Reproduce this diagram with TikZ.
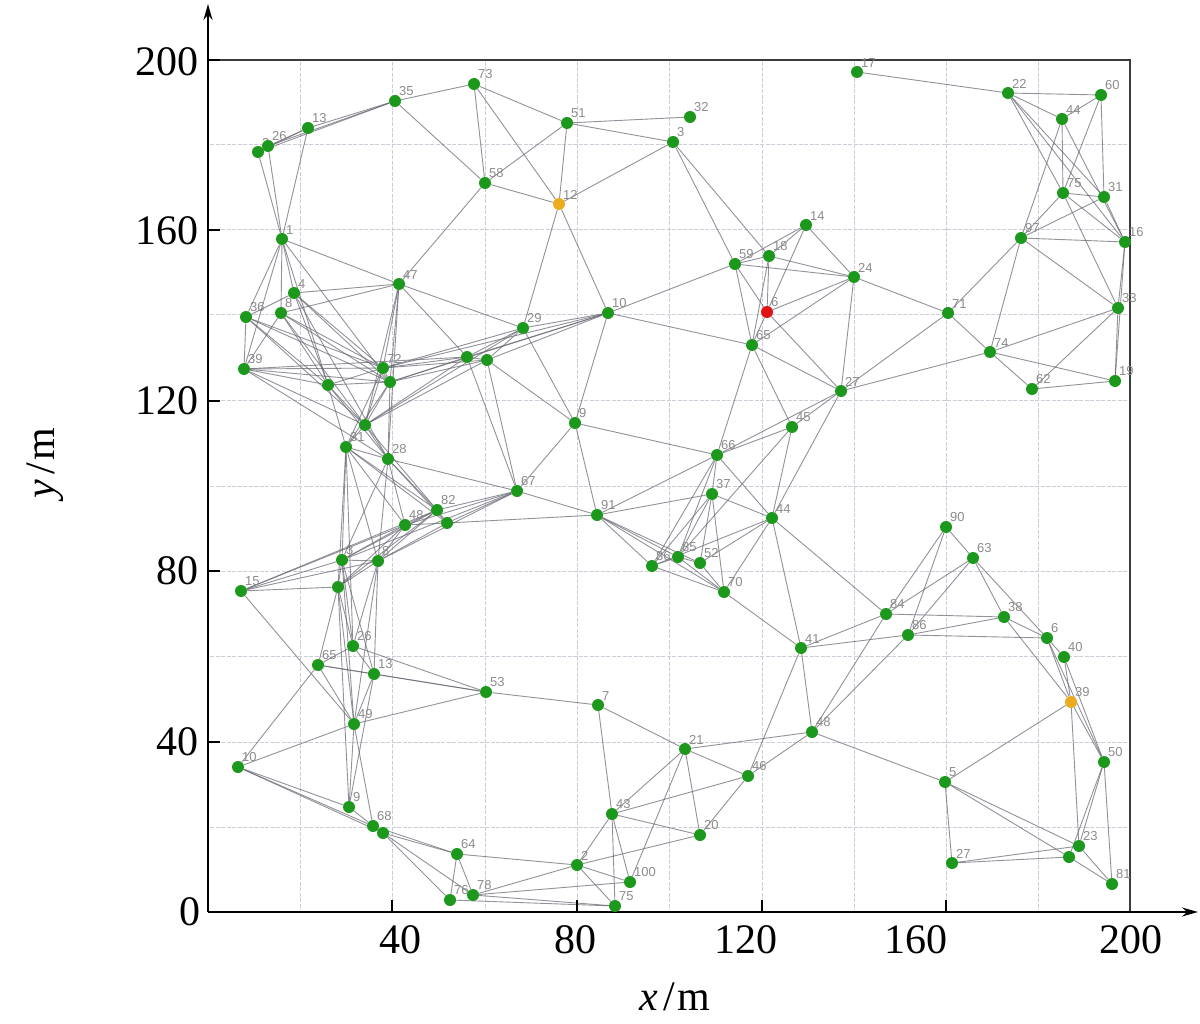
\documentclass[tikz,border=0pt]{standalone}
\usepackage{fontspec}
\setmainfont{Liberation Serif}
\newfontfamily\lblfont{Liberation Sans}
\usetikzlibrary{arrows.meta}
\definecolor{nodegreen}{RGB}{28,152,28}
\definecolor{nodeyellow}{RGB}{235,172,30}
\definecolor{nodered}{RGB}{222,20,20}
\definecolor{edgegray}{RGB}{100,100,112}
\definecolor{gridgray}{RGB}{205,205,215}
\definecolor{lblgray}{RGB}{140,140,140}
\definecolor{framegray}{RGB}{60,60,60}
\pgfdeclarelayer{back}
\pgfdeclarelayer{bg}
\pgfsetlayers{back,bg,main}
\tikzset{
  gn/.style={circle,fill=nodegreen,minimum size=12pt,inner sep=0pt},
  yn/.style={circle,fill=nodeyellow,minimum size=12pt,inner sep=0pt},
  rn/.style={circle,fill=nodered,minimum size=12pt,inner sep=0pt},
  lbl/.style={font=\lblfont\fontsize{13}{13}\selectfont,text=lblgray,inner sep=0pt},
  nlab/.style={label={[lbl,label distance=0pt]50:#1}},
  edge/.style={draw=edgegray,line width=0.9pt,draw opacity=0.7},
  gridline/.style={draw=gridgray,line width=1pt,dash pattern=on 4pt off 1.5pt},
  ticklbl/.style={font=\fontsize{42}{42}\selectfont,inner sep=0pt},
  axisline/.style={line width=1.8pt,black,-{Stealth[length=16pt,width=9pt]}}
}
\begin{document}
\begin{tikzpicture}[x=1pt,y=-1pt]
\useasboundingbox (0,0) rectangle (1200,1024);
\begin{pgfonlayer}{back}
\fill[white] (0,0) rectangle (1200,1024);
\foreach \gx in {300,392,485,577,669,762,854,946,1038}
  \draw[gridline] (\gx,62) -- (\gx,910);
\foreach \gy in {145,230,315,400,486,571,656,742,827}
  \draw[gridline] (210,\gy) -- (1128,\gy);
\end{pgfonlayer}
% frame
\draw[framegray,line width=2.5pt] (208,60) -- (1130,60) -- (1130,912);
% axes
\coordinate (O) at (208,912);
\coordinate (Ytop) at (208,4);
\coordinate (Xend) at (1198,912);
\draw[axisline] (O) -- (Ytop);
\draw[axisline] (O) -- (Xend);
\foreach \ty in {60,230,401,571,742}
  \draw[line width=1.6pt] (208,\ty) -- (220,\ty);
\foreach \tx in {392,577,762,946}
  \draw[line width=1.6pt] (\tx,912) -- (\tx,900);
% tick labels
\node[ticklbl,anchor=east] (ly200) at (199,62) {200};
\node[ticklbl,anchor=east] (ly160) at (199,231) {160};
\node[ticklbl,anchor=east] (ly120) at (199,401) {120};
\node[ticklbl,anchor=east] (ly80) at (199,571) {80};
\node[ticklbl,anchor=east] (ly40) at (199,742) {40};
\node[ticklbl,anchor=east] (ly0) at (201,912) {0};
\node[ticklbl] (lx40) at (400,940) {40};
\node[ticklbl] (lx80) at (575,940) {80};
\node[ticklbl] (lx120) at (746,940) {120};
\node[ticklbl] (lx160) at (916,940) {160};
\node[ticklbl] (lx200) at (1131,940) {200};
\node[ticklbl] (xlab) at (675,997) {\textit{x}\hspace{5pt}/\hspace{3pt}m};
\node[ticklbl,rotate=90] (ylab) at (45,463) {\textit{y}\hspace{5pt}/\hspace{3pt}m};

% nodes
\node[gn,nlab=35] (n35) at (395,101) {};
\node[gn,nlab=13] (n13) at (308,128) {};
\node[gn,nlab=2] (a26) at (258,152) {};
\node[gn,nlab=26] (b26) at (268,146) {};
\node[gn,nlab=73] (n73) at (474,84) {};
\node[gn,nlab=51] (n51) at (567,123) {};
\node[gn,nlab=32] (n32) at (690,117) {};
\node[gn,nlab=3] (n3) at (673,142) {};
\node[gn,nlab=58] (n58) at (485,183) {};
\node[yn,nlab=12] (n12) at (559,204) {};
\node[gn,nlab=17] (n17) at (857,72) {};
\node[gn,nlab=22] (n22) at (1008,93) {};
\node[gn,nlab=60] (n60) at (1101,95) {};
\node[gn,nlab=44] (n44) at (1062,119) {};
\node[gn,nlab=75] (n75t) at (1063,193) {};
\node[gn,nlab=31] (n31) at (1104,197) {};
\node[gn,nlab=97] (n97) at (1021,238) {};
\node[gn,nlab=16] (n16) at (1125,242) {};
\node[gn,nlab=1] (n1) at (282,239) {};
\node[gn,nlab=47] (n47) at (399,284) {};
\node[gn,nlab=4] (n4) at (294,293) {};
\node[gn,nlab=36] (n36) at (246,317) {};
\node[gn,nlab=8] (n8) at (281,313) {};
\node[gn,nlab=10] (n10) at (608,313) {};
\node[gn,nlab=29] (n29) at (523,328) {};
\node[gn,nlab=14] (n14) at (806,225) {};
\node[gn,nlab=18] (n18) at (769,256) {};
\node[gn,nlab=59] (n59) at (735,264) {};
\node[gn,nlab=24] (n24) at (854,277) {};
\node[rn,nlab=6] (nr) at (767,312) {};
\node[gn,nlab=65] (n65) at (752,345) {};
\node[gn,nlab=71] (n71) at (948,313) {};
\node[gn,nlab=33] (n33) at (1118,308) {};
\node[gn,nlab=74] (n74) at (990,352) {};
\node[gn,nlab=62] (n62) at (1032,389) {};
\node[gn,nlab=19] (n19) at (1115,381) {};
\node[gn,nlab=27] (n27) at (841,391) {};
\node[gn,nlab=45] (n45) at (792,427) {};
\node[gn,nlab=66] (n66) at (717,455) {};
\node[gn,nlab=37] (n37) at (712,494) {};
\node[gn,nlab=44] (n44b) at (772,518) {};
\node[gn,nlab=86] (n86a) at (652,566) {};
\node[gn,nlab=85] (n85) at (678,557) {};
\node[gn,nlab=52] (n52) at (700,563) {};
\node[gn,nlab=70] (n70) at (724,592) {};
\node[gn,nlab=84] (n84) at (886,614) {};
\node[gn,nlab=86] (n86) at (908,635) {};
\node[gn,nlab=90] (n90) at (946,527) {};
\node[gn,nlab=63] (n63) at (973,558) {};
\node[gn,nlab=38] (n38) at (1004,617) {};
\node[gn,nlab=6] (n6) at (1047,638) {};
\node[gn,nlab=40] (n40) at (1064,657) {};
\node[yn,nlab=39] (n39) at (1071,702) {};
\node[gn,nlab=50] (n50) at (1104,762) {};
\node[gn,nlab=5] (n5) at (945,782) {};
\node[gn,nlab=23] (n23) at (1079,846) {};
\node[gn] (n23b) at (1069,857) {};
\node[gn,nlab=27] (n27b) at (952,863) {};
\node[gn,nlab=81] (n81) at (1112,884) {};
\node[gn,nlab=41] (n41) at (801,648) {};
\node[gn,nlab=48] (n48) at (812,732) {};
\node[gn,nlab=21] (n21) at (685,749) {};
\node[gn,nlab=46] (n46) at (748,776) {};
\node[gn,nlab=20] (n20) at (700,835) {};
\node[gn,nlab=53] (n53) at (486,692) {};
\node[gn,nlab=7] (n7) at (598,705) {};
\node[gn,nlab=43] (n43) at (612,814) {};
\node[gn,nlab=64] (n64) at (457,854) {};
\node[gn,nlab=2] (n2) at (577,865) {};
\node[gn,nlab=100] (n100) at (630,882) {};
\node[gn,nlab=76] (n76) at (450,900) {};
\node[gn,nlab=78] (n78) at (473,895) {};
\node[gn,nlab=75] (n75) at (615,906) {};
\node[gn,nlab=9] (n9) at (349,807) {};
\node[gn,nlab=68] (n68) at (373,826) {};
\node[gn] (n68b) at (383,833) {};
\node[gn,nlab=10] (n10b) at (238,767) {};
\node[gn,nlab=49] (n49) at (354,724) {};
\node[gn,nlab=13] (n13b) at (374,674) {};
\node[gn,nlab=65] (n65b) at (318,665) {};
\node[gn,nlab=26] (n26c) at (353,646) {};
\node[gn,nlab=15] (n15) at (241,591) {};
\node[gn] (na) at (338,587) {};
\node[gn,nlab=3] (nb) at (342,560) {};
\node[gn,nlab=8] (nc) at (378,561) {};
\node[gn,nlab=48] (nd) at (405,525) {};
\node[gn,nlab=82] (ne) at (437,510) {};
\node[gn] (nf) at (447,523) {};
\node[gn,nlab=67] (n67) at (517,491) {};
\node[gn,nlab=91] (n91) at (597,515) {};
\node[gn,nlab=9] (nh) at (575,423) {};
\node[gn] (ni) at (467,357) {};
\node[gn] (nj) at (487,360) {};
\node[gn,nlab=28] (nk) at (388,459) {};
\node[gn,nlab=31] (nl) at (346,447) {};
\node[gn] (nm) at (365,425) {};
\node[gn] (nn) at (328,385) {};
\node[gn,nlab=72] (no) at (383,368) {};
\node[gn] (np) at (390,382) {};
\node[gn,nlab=39] (nq) at (244,369) {};

% edges
\begin{pgfonlayer}{bg}
\foreach \a/\b in {
 a26/n13,b26/n13,a26/n35,b26/n35,n13/n35,a26/n1,b26/n1,n13/n1,n35/n73,n35/n58,
 n1/n47,n1/n36,n1/n8,n1/n4,n1/nq,n1/nn,n1/np,
 n4/n47,n8/n47,n36/n4,n36/no,n36/np,n36/nm,n8/no,n8/np,n8/nm,n4/no,n4/np,n4/nn,n4/nk,
 n36/nq,n8/nq,n8/nn,n36/nn,n47/no,n47/np,n47/nm,n47/nk,n47/n29,n47/ni,
 n73/n51,n73/n58,n73/n12,n51/n58,n51/n12,n51/n3,n51/n32,n12/n3,n58/n12,n58/n47,n12/n29,n12/n10,
 n10/n29,n10/ni,n10/nj,n10/n59,n10/n65,n10/nh,n10/no,n10/np,
 n29/ni,n29/nj,n29/no,n29/nm,n29/nh,
 ni/nj,ni/no,ni/np,nj/no,nj/np,nq/no,nq/ni,nj/nh,ni/n67,nj/n67,nm/ni,nm/nj,
 n3/n59,n3/n18,n14/n59,n14/n18,n14/nr,n14/n24,n59/n24,n18/n24,nr/n24,n65/n24,n59/n65,n59/nr,
 n18/nr,n18/n65,n24/n71,n24/n27,nr/n27,nr/n65,n17/n22,n59/n18,
 n22/n60,n22/n44,n22/n75t,n22/n31,n60/n44,n60/n75t,n60/n31,n44/n75t,n44/n16,n44/n97,
 n75t/n31,n75t/n97,n75t/n16,n75t/n33,n31/n97,n31/n16,n97/n16,n97/n71,n97/n74,n97/n33,
 n16/n33,n16/n19,n71/n74,n71/n27,n74/n33,n74/n27,n74/n62,n74/n19,n33/n19,n62/n19,n62/n33,n22/n16,
 n65/n66,n65/n45,n65/n27,n27/n45,n27/n66,n27/n44b,n45/n44b,n45/n66,n66/n37,n66/n44b,n66/n86a,
 n66/n85,n66/nh,n37/n44b,n37/n85,n37/n52,n37/n70,n37/n86a,n44b/n52,n44b/n70,n44b/n41,n44b/n84,
 n44b/n86a,n85/n70,n52/n70,n86a/n85,n85/n52,n86a/n70,n70/n41,n45/n85,
 n91/n67,n91/nf,n91/nh,n91/n66,n91/n37,n91/n86a,n91/n85,n91/n70,n91/n52,
 n67/nh,n67/ne,n67/nf,n67/nk,n67/nd,
 n90/n63,n90/n84,n90/n86,n63/n84,n63/n86,n63/n38,n63/n6,n84/n38,n86/n38,n86/n6,n38/n6,
 n6/n40,n6/n39,n40/n39,n40/n50,n6/n50,n39/n50,n38/n39,n39/n23,n39/n5,n5/n23,n5/n23b,n5/n27b,
 n27b/n23,n27b/n23b,n23/n50,n23b/n50,n23/n81,n23b/n81,n50/n81,n48/n5,
 n41/n48,n41/n46,n41/n86,n41/n84,n48/n21,n48/n46,n48/n84,n48/n86,
 n21/n46,n21/n20,n21/n7,n21/n43,n21/n100,n46/n20,n20/n43,n20/n2,n53/n7,n7/n43,
 n43/n2,n43/n75,n43/n100,n43/n46,n64/n2,n64/n76,n64/n78,n2/n78,n2/n75,n2/n100,
 n78/n100,n78/n75,n76/n75,
 n26c/n65b,n26c/n13b,n65b/n13b,n65b/n49,n65b/n10b,n10b/n49,n10b/n9,n10b/n68,n10b/n68b,
 n49/n68,n49/n9,n13b/n9,n13b/n49,n9/n68,n68/n68b,n68/n64,n68b/n64,n68b/n76,n68/n78,
 n13b/n53,n65b/n53,n26c/n53,n49/n53,n15/n49,
 nq/np,nq/nn,nq/nm,nq/nk,nn/no,nn/np,nn/nm,no/np,no/nm,np/nm,no/nl,np/nl,np/nk,nm/nl,nm/nk,
 nl/nk,nl/nb,nl/na,nl/nc,nl/nd,nl/ne,nk/nd,nk/ne,nk/nf,nk/nc,nk/nb,nd/ne,nd/nf,ne/nf,
 nb/nc,nb/na,na/nc,nb/n15,na/n15,nc/n15,nb/ne,nc/ne,na/ne,nc/nf,nb/nd,nc/nd,na/nd,nm/ne,
 nl/nf,nn/nl,nn/nk,n15/nd,
 nb/n26c,na/n26c,nc/n26c,na/n65b,nb/n13b,nc/n13b,na/n49,nb/n49,na/n9,nc/n49,nl/n26c,
 nc/n67,nb/n67,n15/ne}
  \draw[edge] (\a) -- (\b);
\end{pgfonlayer}
\end{tikzpicture}
\end{document}
